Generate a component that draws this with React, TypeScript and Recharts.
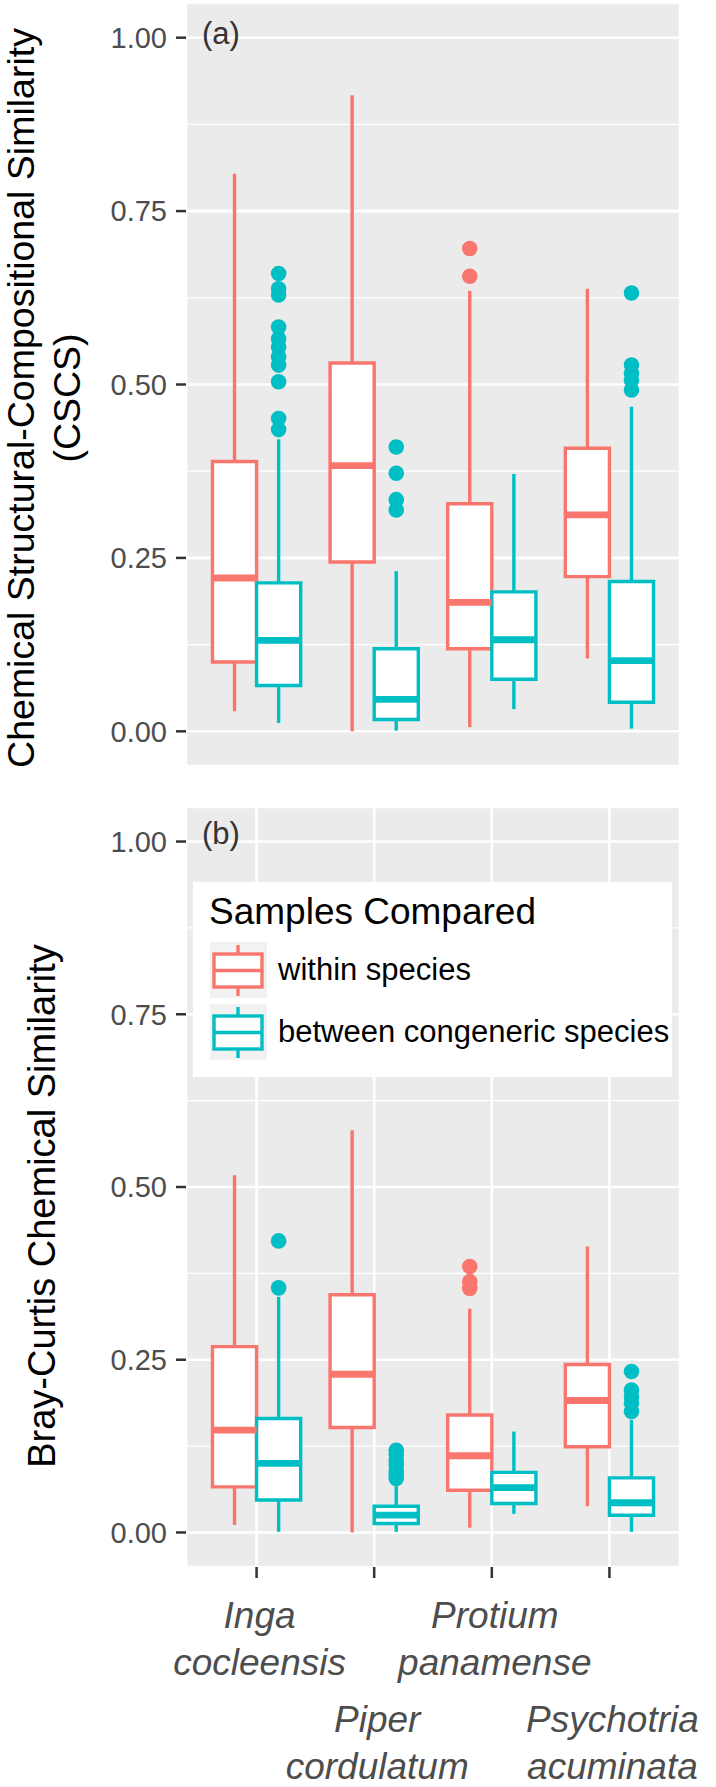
import React from "react";
import {
  ComposedChart,
  CartesianGrid,
  XAxis,
  YAxis,
  ReferenceArea,
  ReferenceLine,
  Scatter,
} from "recharts";

const FONT = '"Liberation Sans", Arial, Helvetica, sans-serif';
const RED = "#F8766D";
const CYAN = "#00BFC4";

// species on the x axis (genus / epithet, two lines each)
const genus = ["Inga", "Piper", "Protium", "Psychotria"];
const epithet = ["cocleensis", "cordulatum", "panamense", "acuminata"];
const groups = ["within species", "between congeneric species"];

const yTicks = [0, 0.25, 0.5, 0.75, 1];
const yMinor = [0.125, 0.375, 0.625, 0.875];
const xTicks = [1, 2, 3, 4];

// box stats per species: [lower whisker, Q1, median, Q3, upper whisker]
// (a) CSCS
const cscsWithin = [
  [0.029, 0.1, 0.221, 0.389, 0.804],
  [0.0, 0.244, 0.383, 0.531, 0.917],
  [0.006, 0.119, 0.186, 0.328, 0.635],
  [0.105, 0.223, 0.312, 0.408, 0.638],
];
const cscsBetween = [
  [0.012, 0.066, 0.131, 0.214, 0.421],
  [0.001, 0.017, 0.046, 0.119, 0.231],
  [0.032, 0.075, 0.132, 0.201, 0.371],
  [0.004, 0.042, 0.102, 0.216, 0.468],
];
const cscsWithinOut = [[], [], [0.696, 0.656], []];
const cscsBetweenOut = [
  [0.66, 0.638, 0.629, 0.583, 0.566, 0.554, 0.54, 0.528, 0.504, 0.451, 0.435],
  [0.41, 0.372, 0.334, 0.319],
  [],
  [0.632, 0.528, 0.516, 0.506, 0.492],
];

// (b) Bray-Curtis
const bcWithin = [
  [0.011, 0.066, 0.148, 0.269, 0.517],
  [0.0, 0.152, 0.229, 0.344, 0.582],
  [0.007, 0.061, 0.111, 0.17, 0.324],
  [0.038, 0.124, 0.191, 0.243, 0.414],
];
const bcBetween = [
  [0.001, 0.047, 0.1, 0.165, 0.341],
  [0.001, 0.013, 0.025, 0.038, 0.067],
  [0.027, 0.042, 0.065, 0.087, 0.146],
  [0.001, 0.025, 0.043, 0.079, 0.163],
];
const bcWithinOut = [[], [], [0.385, 0.363, 0.353], []];
const bcBetweenOut = [
  [0.422, 0.354],
  [0.119, 0.113, 0.105, 0.098, 0.09, 0.084, 0.078],
  [],
  [0.233, 0.206, 0.196, 0.187, 0.175],
];

const HALF = 0.1875; // half box width (dodge 0.75 / 2 groups)
const LW = 3.4;

type Box = { x: number; min: number; q1: number; med: number; q3: number; max: number };

const toBoxes = (stats: number[][], off: number): Box[] =>
  stats.map((s, i) => ({ x: i + 1 + off, min: s[0], q1: s[1], med: s[2], q3: s[3], max: s[4] }));

const toPoints = (outs: number[][], off: number) =>
  outs.flatMap((arr, i) => arr.map((y) => ({ x: i + 1 + off, y })));

function XTick(props: any) {
  const { x, y, payload } = props;
  const i = payload.value - 1;
  const off = i % 2 === 1 ? 104 : 0;
  return (
    <text textAnchor="middle" fontStyle="italic" fontSize={37} fill="#4D4D4D" fontFamily={FONT}>
      <tspan x={x + 3} y={y + 48 + off}>{genus[i]}</tspan>
      <tspan x={x + 3} y={y + 95 + off}>{epithet[i]}</tspan>
    </text>
  );
}

function renderBoxes(boxes: Box[], color: string, id: string) {
  const out: React.ReactNode[] = [];
  boxes.forEach((b, i) => {
    out.push(
      <ReferenceLine key={`${id}-wu${i}`} segment={[{ x: b.x, y: b.q3 }, { x: b.x, y: b.max }]}
        stroke={color} strokeWidth={LW} ifOverflow="visible" zIndex={50} />,
      <ReferenceLine key={`${id}-wl${i}`} segment={[{ x: b.x, y: b.min }, { x: b.x, y: b.q1 }]}
        stroke={color} strokeWidth={LW} ifOverflow="visible" zIndex={50} />
    );
  });
  boxes.forEach((b, i) => {
    out.push(
      <ReferenceArea key={`${id}-b${i}`} x1={b.x - HALF} x2={b.x + HALF} y1={b.q1} y2={b.q3}
        fill="#FFFFFF" fillOpacity={1} stroke={color} strokeWidth={LW} ifOverflow="visible" zIndex={100} />
    );
  });
  boxes.forEach((b, i) => {
    out.push(
      <ReferenceLine key={`${id}-m${i}`} segment={[{ x: b.x - HALF, y: b.med }, { x: b.x + HALF, y: b.med }]}
        stroke={color} strokeWidth={6.8} ifOverflow="visible" zIndex={150} />
    );
  });
  return out;
}

function Panel(props: {
  within: number[][];
  between: number[][];
  withinOut: number[][];
  betweenOut: number[][];
  height: number;
  top: number;
  xAxisHeight: number;
  labels: boolean;
}) {
  const { within, between, withinOut, betweenOut, height, top, xAxisHeight, labels } = props;
  const wBoxes = toBoxes(within, -HALF);
  const bBoxes = toBoxes(between, HALF);
  const wPts = toPoints(withinOut, -HALF);
  const bPts = toPoints(betweenOut, HALF);
  return (
    <ComposedChart width={716} height={height} margin={{ top, right: 36, bottom: 0, left: 0 }}>
      <CartesianGrid fill="#EBEBEB" stroke="#FFFFFF" strokeWidth={2.6} />
      <XAxis
        type="number"
        dataKey="x"
        domain={[0.4, 4.6]}
        allowDataOverflow
        ticks={xTicks}
        height={xAxisHeight}
        axisLine={false}
        tickSize={11}
        tickLine={{ stroke: "#333333", strokeWidth: 2.5 }}
        tick={labels ? <XTick /> : false}
        interval={0}
      />
      <YAxis
        type="number"
        dataKey="y"
        domain={[-0.05, 1.05]}
        allowDataOverflow
        ticks={yTicks}
        width={186}
        axisLine={false}
        tickSize={10}
        tickMargin={9}
        tickLine={{ stroke: "#333333", strokeWidth: 2.5 }}
        tick={{ fontSize: 29, fill: "#4D4D4D", fontFamily: FONT }}
        tickFormatter={(v: number) => v.toFixed(2)}
      />
      {yMinor.map((v) => (
        <ReferenceLine key={`minor${v}`} y={v} stroke="#FFFFFF" strokeWidth={1.3} zIndex={-90} />
      ))}
      {renderBoxes(wBoxes, RED, "w")}
      {renderBoxes(bBoxes, CYAN, "b")}
      <Scatter
        data={wPts}
        isAnimationActive={false}
        shape={(p: any) => <circle cx={p.cx} cy={p.cy} r={7.8} fill={RED} />}
      />
      <Scatter
        data={bPts}
        isAnimationActive={false}
        shape={(p: any) => <circle cx={p.cx} cy={p.cy} r={7.8} fill={CYAN} />}
      />
    </ComposedChart>
  );
}

function LegendKey({ y, color }: { y: number; color: string }) {
  return (
    <g>
      <rect x={210} y={y} width={57} height={56} fill="#F2F2F2" />
      <line x1={238} x2={238} y1={y + 3} y2={y + 12} stroke={color} strokeWidth={LW} />
      <line x1={238} x2={238} y1={y + 45} y2={y + 54} stroke={color} strokeWidth={LW} />
      <rect x={214} y={y + 12} width={48} height={33} fill="#FFFFFF" stroke={color} strokeWidth={LW} />
      <line x1={214} x2={262} y1={y + 28.5} y2={y + 28.5} stroke={color} strokeWidth={LW} />
    </g>
  );
}

export default function App() {
  return (
    <div style={{ position: "absolute", left: 0, top: 0, width: 716, height: 1787, background: "#FFFFFF", fontFamily: FONT }}>
      <div style={{ position: "absolute", left: 0, top: 0 }}>
        <Panel within={cscsWithin} between={cscsBetween} withinOut={cscsWithinOut} betweenOut={cscsBetweenOut}
          height={790} top={3} xAxisHeight={24} labels={false} />
      </div>
      <div style={{ position: "absolute", left: 0, top: 800 }}>
        <Panel within={bcWithin} between={bcBetween} withinOut={bcWithinOut} betweenOut={bcBetweenOut}
          height={987} top={7} xAxisHeight={220} labels={true} />
      </div>
      <svg width={716} height={1787} style={{ position: "absolute", left: 0, top: 0, pointerEvents: "none" }}
        fontFamily={FONT}>
        {/* axis titles */}
        <text transform="translate(34,398) rotate(-90)" textAnchor="middle" fontSize={37.5} fill="#000">
          Chemical Structural-Compositional Similarity
        </text>
        <text transform="translate(80,398) rotate(-90)" textAnchor="middle" fontSize={37.5} fill="#000">
          (CSCS)
        </text>
        <text transform="translate(55,1206) rotate(-90)" textAnchor="middle" fontSize={38} fill="#000">
          Bray-Curtis Chemical Similarity
        </text>
        {/* panel tags */}
        <text x={202} y={44} fontSize={31} fill="#333333">(a)</text>
        <text x={202} y={844} fontSize={31} fill="#333333">(b)</text>
        {/* legend */}
        <rect x={193} y={882} width={479} height={195} fill="#FFFFFF" />
        <text x={209} y={924} fontSize={37} fill="#000">Samples Compared</text>
        <LegendKey y={942} color={RED} />
        <LegendKey y={1004} color={CYAN} />
        <text x={278} y={980} fontSize={31} fill="#000">{groups[0]}</text>
        <text x={278} y={1042} fontSize={31} fill="#000">{groups[1]}</text>
      </svg>
    </div>
  );
}
